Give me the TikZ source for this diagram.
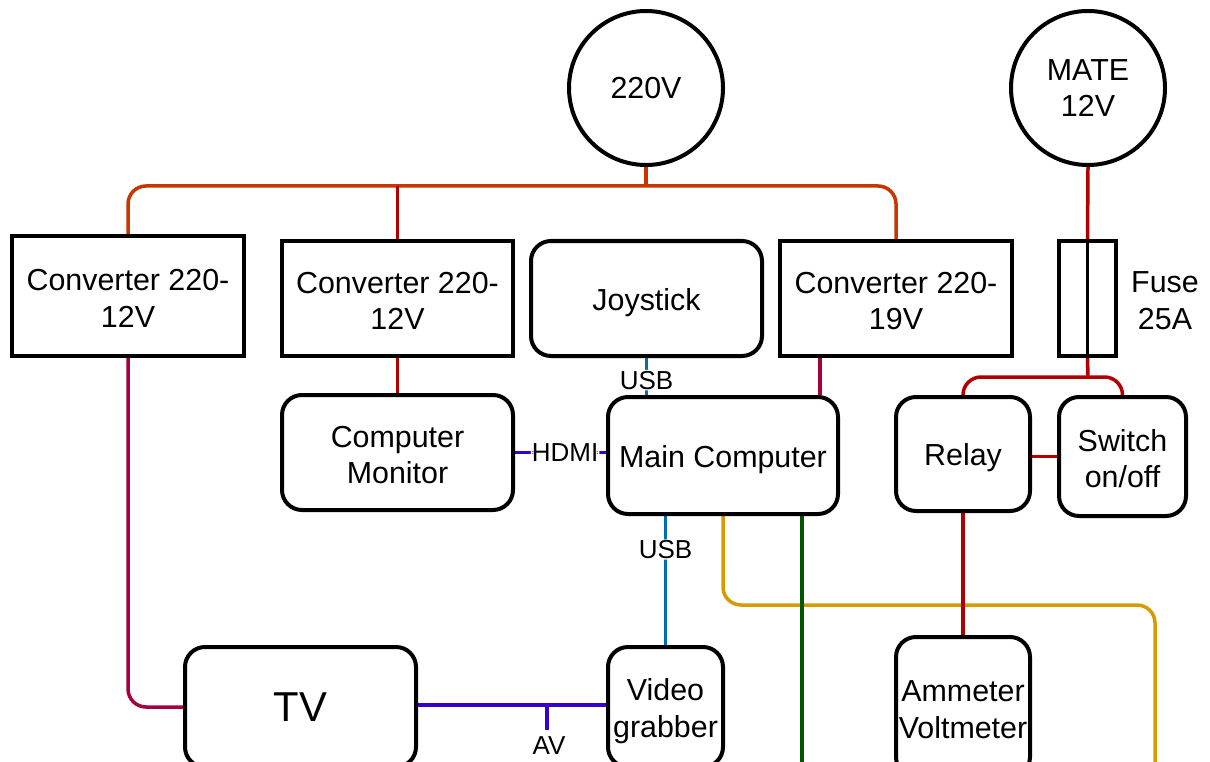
\documentclass[tikz,border=0pt]{standalone}
\usepackage{fontspec}
\setmainfont{Liberation Sans}
\usetikzlibrary{backgrounds}
\definecolor{cOrange}{HTML}{C73500}
\definecolor{cRed}{HTML}{B20000}
\definecolor{cMag}{HTML}{A50040}
\definecolor{cBlue}{HTML}{006EAF}
\definecolor{cPurp}{HTML}{3700CC}
\definecolor{cYel}{HTML}{D79B00}
\definecolor{cGreen}{HTML}{005700}
\newcommand\lnst{\rule[-4pt]{0pt}{34pt}}
\tikzset{
  box/.style={draw, line width=4pt, fill=white, align=center, inner sep=0pt,
    font=\fontsize{30.4}{36.5}\selectfont},
  rbox/.style={box, rounded corners=20pt},
  circ/.style={box, circle, minimum size=154pt},
  lbl/.style={fill=white, text=black, inner sep=1pt, font=\fontsize{26}{30}\selectfont},
  wire/.style={line width=3.5pt, rounded corners=18pt},
}
\begin{document}
\begin{tikzpicture}[x=1pt,y=-1pt]
\useasboundingbox (0,0) rectangle (1210,762);
% nodes
\node[circ] (c220) at (646,88) {220V};
\node[circ] (mate) at (1088,88) {MATE\\12V};
\node[box, minimum width=232pt, minimum height=120pt] (conv1) at (128,296) {\lnst Converter 220-\\\lnst 12V};
\node[box, minimum width=231pt, minimum height=115pt] (conv2) at (397.5,298.5) {\lnst Converter 220-\\\lnst 12V};
\node[rbox, minimum width=231pt, minimum height=115pt] (joy) at (646.5,298.5) {\lnst Joystick};
\node[box, minimum width=232pt, minimum height=115pt] (conv3) at (896,298.5) {\lnst Converter 220-\\\lnst 19V};
\node[box, minimum width=57pt, minimum height=115pt] (fuse) at (1087.5,298.5) {};
\node[align=center, inner sep=0pt, font=\fontsize{30.4}{36.5}\selectfont] (fuselbl) at (1165,298) {\lnst Fuse\\\lnst 25A};
\node[rbox, minimum width=231pt, minimum height=115pt] (mon) at (397.5,452.5) {\lnst Computer\\\lnst Monitor};
\node[rbox, minimum width=230pt, minimum height=117pt] (main) at (723,455.5) {\lnst Main Computer};
\node[rbox, minimum width=134pt, minimum height=114pt] (relay) at (963,454) {\lnst Relay};
\node[rbox, minimum width=127pt, minimum height=119pt] (sw) at (1122.5,456.5) {\lnst Switch\\\lnst on/off};
\node[rbox, minimum width=231pt, minimum height=120pt, font=\fontsize{41.8}{50}\selectfont] (tv) at (300.5,707) {TV};
\node[rbox, minimum width=115pt, minimum height=120pt] (vgrab) at (665.5,707) {\lnst Video\\\lnst grabber};
\node[rbox, minimum width=134pt, minimum height=140pt] (amm) at (963,707) {\lnst Ammeter\\\lnst Voltmeter};
% coordinates
\coordinate (bus) at (646,186);
\coordinate (fj) at (1088,377);
\coordinate (yb) at (1155,605);
\coordinate (ye) at (1155,775);
\coordinate (ge) at (802,775);
\coordinate (avj) at (547,705);
\coordinate (avend) at (547,730);
\node[lbl] (avlbl) at (549,746) {AV};
\begin{scope}[on background layer]
  \draw[wire, cOrange] (conv1.north) |- (bus) -| (conv3.north);
  \draw[wire, cOrange] (c220.south) -- (bus);
  \draw[wire, cRed] (conv2.north) -- (conv2.north |- bus);
  \draw[wire, cMag] (conv1.south) |- (tv.west);
  \draw[wire, cRed] (conv2.south) -- (mon.north);
  \draw[wire, cBlue] (joy.south) -- (joy.south |- main.north)
     node[lbl, pos=0.6] (lusb1) {USB};
  \draw[wire, cMag] ([xshift=97pt]main.north |- conv3.south) -- ([xshift=97pt]main.north);
  \draw[wire, cPurp] (mon.east) -- (mon.east -| main.west)
     node[lbl, pos=0.55] (lhdmi) {HDMI};
  \draw[wire, cBlue] (vgrab.north |- main.south) -- (vgrab.north)
     node[lbl, pos=0.26] (lusb2) {USB};
  \draw[wire, cYel] (main.south) |- (yb) -- (ye);
  \draw[wire, cGreen] ([xshift=79pt]main.south) -- (ge);
  \draw[wire, cPurp] (tv.east |- avj) -- (vgrab.west |- avj);
  \draw[wire, cPurp] (avj) -- (avend);
  \draw[wire, cRed] (mate.south) -- (fuse.north);
  \draw[wire, cRed] (fuse.south) -- (fj);
  \draw[wire, cRed] (relay.north) |- (fj) -| (sw.north);
  \draw[wire, cRed] (relay.east |- sw.west) -- (sw.west);
  \draw[wire, cRed] (relay.south) -- (amm.north);
\end{scope}
\draw[line width=3.5pt] (fuse.north) -- (fuse.south);
\end{tikzpicture}
\end{document}
